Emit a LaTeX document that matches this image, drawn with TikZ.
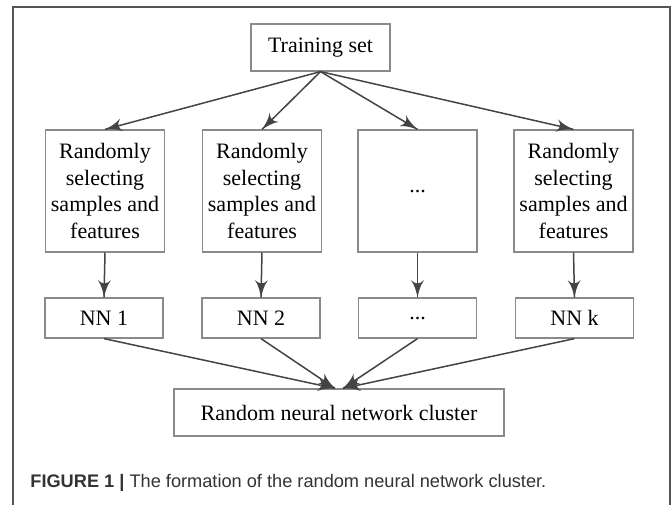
\documentclass[tikz,border=0pt]{standalone}
\usepackage{fontspec}
\setmainfont{Liberation Serif}
\setsansfont{Liberation Sans}
\usepackage{tikz}
\usetikzlibrary{arrows}
\usetikzlibrary{decorations.markings}
\usetikzlibrary{positioning}
\definecolor{framegray}{HTML}{555555}
\definecolor{boxgray}{HTML}{8A8A8A}
\definecolor{arrgray}{HTML}{444444}
\definecolor{capgray}{HTML}{333333}
\tikzset{flow/.style = {draw=arrgray, line width=0.75pt,
                        decoration={markings,
                                    mark=at position 1 with {\arrow[scale=1.7, arrgray]{latex'}}},
                        postaction={decorate}}}
\tikzset{stage/.style = {draw=boxgray, line width=0.6pt, align=center, inner sep=0,
                         font=\fontsize{11}{13.3}\selectfont}}
\tikzset{pick/.style = {stage, minimum width=59.5pt, minimum height=61pt}}
\tikzset{net/.style = {stage, minimum width=59pt, minimum height=20pt}}

\begin{document}
\begin{tikzpicture}[x=0.5pt, y=-0.5pt]
    \useasboundingbox (0, 0) rectangle (672, 505);
    \draw [framegray, line width=1pt] (13, 505) -- (13, 7) -- (670, 7) -- (670, 505);

    \node [stage, minimum width=69.5pt, minimum height=23.5pt] (train) at (320.5, 47.5) {Training set};

    \node [pick] (pick1) at (105, 191) {Randomly\\selecting\\samples and\\features};
    \node [pick] (pick2) at (262, 191) {Randomly\\selecting\\samples and\\features};
    \node [pick] (pick3) at (417.5, 191) {...};
    \node [pick] (pickk) at (573.5, 191) {Randomly\\selecting\\samples and\\features};

    \node [net] (nn1) at (104, 318) {NN 1};
    \node [net] (nn2) at (261, 318) {NN 2};
    \node [net] (nn3) at (417.5, 318) {...};
    \node [net] (nnk) at (574.5, 318) {NN k};

    \node [stage, minimum width=165pt, minimum height=23.5pt] (cluster) at (339, 412.5) {Random neural network cluster};

    \foreach \i in {1, 2, 3, k} {
        \draw [flow] (train.south) -- (pick\i.north);
        \draw [flow] (pick\i.south) -- (nn\i.north);
    }
    \draw [flow] (nn1.south) -- ([xshift=-2pt]cluster.north);
    \draw [flow] (nn2.south) -- ([xshift=-2pt]cluster.north);
    \draw [flow] (nn3.south) -- ([xshift=2pt]cluster.north);
    \draw [flow] (nnk.south) -- ([xshift=2pt]cluster.north);

    \node [anchor=west, inner sep=0, text=capgray, font=\sffamily\fontsize{9.1}{10}\selectfont] (caption) at (30, 483)
        {\textbf{FIGURE 1} \textbf{|} The formation of the random neural network cluster.};
\end{tikzpicture}
\end{document}
